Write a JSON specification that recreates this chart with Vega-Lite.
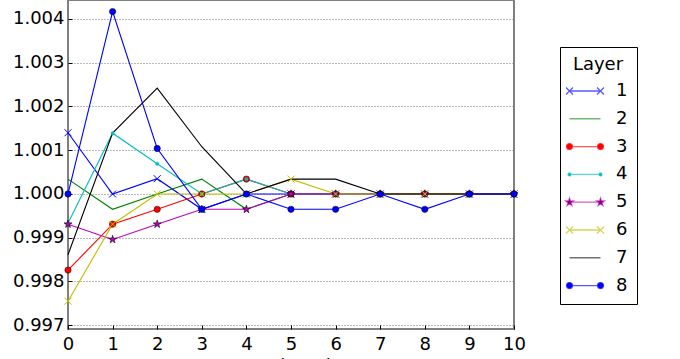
{
  "$schema": "https://vega.github.io/schema/vega-lite/v6.json",
  "width": 446,
  "height": 329,
  "autosize": {"type": "none"},
  "padding": {"left": 68, "top": 0, "right": 166, "bottom": 30},
  "background": "white",
  "config": {
    "font": "DejaVu Sans",
    "view": {"stroke": "#808080", "strokeWidth": 2},
    "axis": {"domain": false, "labelFontSize": 18, "labelColor": "#000", "titleColor": "#000", "titleFontWeight": "normal", "titleFontSize": 18, "tickColor": "#000", "tickSize": -4, "tickWidth": 1}
  },
  "datasets": {
    "series": [
      {"x": 0, "v": 1.0014, "layer": 1}, {"x": 1, "v": 1.0, "layer": 1}, {"x": 2, "v": 1.00035, "layer": 1}, {"x": 3, "v": 0.99965, "layer": 1}, {"x": 4, "v": 1.0, "layer": 1}, {"x": 5, "v": 1.0, "layer": 1}, {"x": 6, "v": 1.0, "layer": 1}, {"x": 7, "v": 1.0, "layer": 1}, {"x": 8, "v": 1.0, "layer": 1}, {"x": 9, "v": 1.0, "layer": 1}, {"x": 10, "v": 1.0, "layer": 1},
      {"x": 0, "v": 1.00034, "layer": 2}, {"x": 1, "v": 0.99965, "layer": 2}, {"x": 2, "v": 1.0, "layer": 2}, {"x": 3, "v": 1.00034, "layer": 2}, {"x": 4, "v": 0.99965, "layer": 2}, {"x": 5, "v": 1.0, "layer": 2}, {"x": 6, "v": 1.0, "layer": 2}, {"x": 7, "v": 1.0, "layer": 2}, {"x": 8, "v": 1.0, "layer": 2}, {"x": 9, "v": 1.0, "layer": 2}, {"x": 10, "v": 1.0, "layer": 2},
      {"x": 0, "v": 0.99826, "layer": 3}, {"x": 1, "v": 0.99931, "layer": 3}, {"x": 2, "v": 0.99965, "layer": 3}, {"x": 3, "v": 1.0, "layer": 3}, {"x": 4, "v": 1.00034, "layer": 3}, {"x": 5, "v": 1.0, "layer": 3}, {"x": 6, "v": 1.0, "layer": 3}, {"x": 7, "v": 1.0, "layer": 3}, {"x": 8, "v": 1.0, "layer": 3}, {"x": 9, "v": 1.0, "layer": 3}, {"x": 10, "v": 1.0, "layer": 3},
      {"x": 0, "v": 0.99933, "layer": 4}, {"x": 1, "v": 1.00139, "layer": 4}, {"x": 2, "v": 1.00069, "layer": 4}, {"x": 3, "v": 1.0, "layer": 4}, {"x": 4, "v": 1.00034, "layer": 4}, {"x": 5, "v": 1.0, "layer": 4}, {"x": 6, "v": 1.0, "layer": 4}, {"x": 7, "v": 1.0, "layer": 4}, {"x": 8, "v": 1.0, "layer": 4}, {"x": 9, "v": 1.0, "layer": 4}, {"x": 10, "v": 1.0, "layer": 4},
      {"x": 0, "v": 0.99931, "layer": 5}, {"x": 1, "v": 0.99896, "layer": 5}, {"x": 2, "v": 0.99931, "layer": 5}, {"x": 3, "v": 0.99965, "layer": 5}, {"x": 4, "v": 0.99965, "layer": 5}, {"x": 5, "v": 1.0, "layer": 5}, {"x": 6, "v": 1.0, "layer": 5}, {"x": 7, "v": 1.0, "layer": 5}, {"x": 8, "v": 1.0, "layer": 5}, {"x": 9, "v": 1.0, "layer": 5}, {"x": 10, "v": 1.0, "layer": 5},
      {"x": 0, "v": 0.99755, "layer": 6}, {"x": 1, "v": 0.99931, "layer": 6}, {"x": 2, "v": 1.0, "layer": 6}, {"x": 3, "v": 1.0, "layer": 6}, {"x": 4, "v": 1.0, "layer": 6}, {"x": 5, "v": 1.00034, "layer": 6}, {"x": 6, "v": 1.0, "layer": 6}, {"x": 7, "v": 1.0, "layer": 6}, {"x": 8, "v": 1.0, "layer": 6}, {"x": 9, "v": 1.0, "layer": 6}, {"x": 10, "v": 1.0, "layer": 6},
      {"x": 0, "v": 0.99861, "layer": 7}, {"x": 1, "v": 1.00139, "layer": 7}, {"x": 2, "v": 1.00242, "layer": 7}, {"x": 3, "v": 1.00108, "layer": 7}, {"x": 4, "v": 1.0, "layer": 7}, {"x": 5, "v": 1.00034, "layer": 7}, {"x": 6, "v": 1.00034, "layer": 7}, {"x": 7, "v": 1.0, "layer": 7}, {"x": 8, "v": 1.0, "layer": 7}, {"x": 9, "v": 1.0, "layer": 7}, {"x": 10, "v": 1.0, "layer": 7},
      {"x": 0, "v": 1.0, "layer": 8}, {"x": 1, "v": 1.00417, "layer": 8}, {"x": 2, "v": 1.00104, "layer": 8}, {"x": 3, "v": 0.99965, "layer": 8}, {"x": 4, "v": 1.0, "layer": 8}, {"x": 5, "v": 0.99965, "layer": 8}, {"x": 6, "v": 0.99965, "layer": 8}, {"x": 7, "v": 1.0, "layer": 8}, {"x": 8, "v": 0.99965, "layer": 8}, {"x": 9, "v": 1.0, "layer": 8}, {"x": 10, "v": 1.0, "layer": 8}
    ]
  },
  "data": {"name": "series"},
  "encoding": {
    "x": {"field": "x", "type": "quantitative", "scale": {"domain": [0, 10], "nice": false, "zero": false},
      "axis": {"title": "Fraction Bits", "values": [0,1,2,3,4,5,6,7,8,9,10], "format": "d", "grid": false, "labelFlush": false, "labelOverlap": false, "labelPadding": 10, "titlePadding": 4}},
    "y": {"field": "v", "type": "quantitative", "scale": {"domain": [0.996914, 1.004434], "nice": false, "zero": false},
      "axis": {"title": null, "values": [0.997,0.998,0.999,1.0,1.001,1.002,1.003,1.004], "format": ".3f", "grid": true, "gridDash": [1, 2], "gridColor": "#777", "gridWidth": 1, "labelFlush": false, "labelOverlap": false, "labelPadding": 8}}
  },
  "layer": [
    {
      "mark": {"type": "line", "strokeWidth": 1.1},
      "encoding": {
        "color": {"field": "layer", "type": "nominal",
          "scale": {"domain": [1,2,3,4,5,6,7,8], "range": ["#0000ff", "#008000", "#ff0000", "#00bfbf", "#bf00bf", "#bfbf00", "#000000", "#0000ff"]},
          "legend": {
            "title": "Layer", "orient": "none", "legendX": 492, "legendY": 47,
            "strokeColor": "#000", "fillColor": "#fff", "padding": 9,
            "titleFontSize": 18, "titleFontWeight": "normal", "titleColor": "#000", "titleAnchor": "middle", "titleAlign": "center", "titlePadding": 8,
            "labelFontSize": 18, "labelColor": "#000", "labelOffset": 22,
            "symbolSize": 100, "symbolStrokeWidth": 1.3, "symbolOffset": 7, "rowPadding": 9.8,
            "encode": {
              "symbols": {"update": {
                "shape": {"signal": "['M-3.1,0H3.1M-3.8,-0.7L-2.4,0.7M-3.8,0.7L-2.4,-0.7M2.4,-0.7L3.8,0.7M2.4,0.7L3.8,-0.7', 'M-3.1,0H3.1', 'M-3.1,0H3.1M-2.5,0A0.6,0.6 0 1,1 -3.7,0A0.6,0.6 0 1,1 -2.5,0ZM3.7,0A0.6,0.6 0 1,1 2.5,0A0.6,0.6 0 1,1 3.7,0Z', 'M-3.1,0H3.1M-2.8,0A0.3,0.3 0 1,1 -3.4,0A0.3,0.3 0 1,1 -2.8,0ZM3.4,0A0.3,0.3 0 1,1 2.8,0A0.3,0.3 0 1,1 3.4,0Z', 'M-3.1,0H3.1M-3.1,-0.8L-2.9204,-0.2472L-2.3391,-0.2472L-2.8094,0.0944L-2.6298,0.6472L-3.1,0.3056L-3.5702,0.6472L-3.3906,0.0944L-3.8609,-0.2472L-3.2796,-0.2472ZM3.1,-0.8L3.2796,-0.2472L3.8609,-0.2472L3.3906,0.0944L3.5702,0.6472L3.1,0.3056L2.6298,0.6472L2.8094,0.0944L2.3391,-0.2472L2.9204,-0.2472Z', 'M-3.1,0H3.1M-3.8,-0.7L-2.4,0.7M-3.8,0.7L-2.4,-0.7M2.4,-0.7L3.8,0.7M2.4,0.7L3.8,-0.7', 'M-3.1,0H3.1', 'M-3.1,0H3.1M-2.5,0A0.6,0.6 0 1,1 -3.7,0A0.6,0.6 0 1,1 -2.5,0ZM3.7,0A0.6,0.6 0 1,1 2.5,0A0.6,0.6 0 1,1 3.7,0Z'][datum.index]"},
                "fill": {"signal": "['transparent','transparent','#ff0000','#00bfbf','#600060','transparent','transparent','#0000ff'][datum.index]"},
                "stroke": {"signal": "['#0000ff','#008000','#ff0000','#00bfbf','#bf00bf','#bfbf00','#000000','#0000ff'][datum.index]"},
                "strokeOpacity": {"value": 0.65},
                "fillOpacity": {"value": 1},
                "opacity": {"value": 1}
              }}
            }
          }
        }
      }
    },
    {
      "transform": [{"filter": "datum.layer == 1"}],
      "mark": {"type": "point", "shape": "M-1,-1L1,1M-1,1L1,-1", "size": 49, "filled": false, "stroke": "#0000ff", "strokeWidth": 1, "opacity": 1}
    },
    {
      "transform": [{"filter": "datum.layer == 3"}],
      "mark": {"type": "point", "shape": "circle", "size": 40, "filled": true, "fill": "#ff0000", "stroke": "#000", "strokeWidth": 0.5, "opacity": 1}
    },
    {
      "transform": [{"filter": "datum.layer == 4"}],
      "mark": {"type": "point", "shape": "circle", "size": 10, "filled": true, "fill": "#00bfbf", "stroke": "#00bfbf", "strokeWidth": 0.5, "opacity": 1}
    },
    {
      "transform": [{"filter": "datum.layer == 5"}],
      "mark": {"type": "point", "shape": "M0,-1L0.2245,-0.309L0.9511,-0.309L0.3633,0.118L0.5878,0.809L0,0.382L-0.5878,0.809L-0.3633,0.118L-0.9511,-0.309L-0.2245,-0.309Z", "size": 70, "filled": true, "fill": "#bf00bf", "stroke": "#000", "strokeWidth": 0.6, "opacity": 1}
    },
    {
      "transform": [{"filter": "datum.layer == 6"}],
      "mark": {"type": "point", "shape": "M-1,-1L1,1M-1,1L1,-1", "size": 49, "filled": false, "stroke": "#bfbf00", "strokeWidth": 1, "opacity": 1}
    },
    {
      "transform": [{"filter": "datum.layer == 8"}],
      "mark": {"type": "point", "shape": "circle", "size": 40, "filled": true, "fill": "#0000ff", "stroke": "#000", "strokeWidth": 0.5, "opacity": 1}
    }
  ]
}
